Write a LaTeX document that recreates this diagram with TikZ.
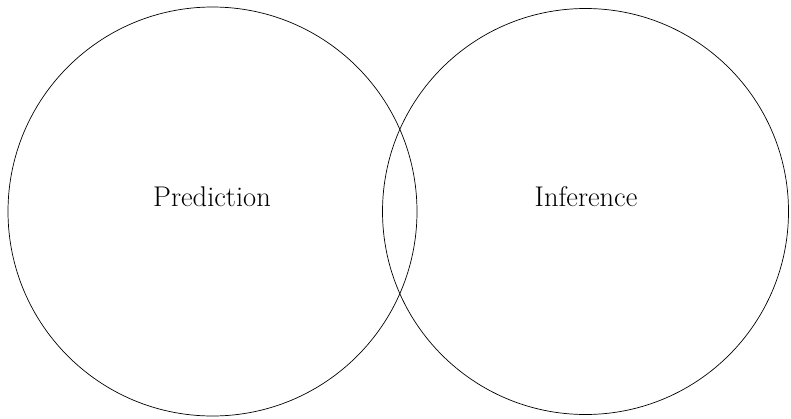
\documentclass[tikz,border=0pt]{standalone}
\begin{document}
\begin{tikzpicture}[x=1pt,y=-1pt,
  setcircle/.style={draw=black,line width=0.7pt,circle,inner sep=0pt},
  setlabel/.style={font=\fontsize{28.5}{32}\selectfont,inner sep=0pt}]
\useasboundingbox (0,0) rectangle (791,418);
\node[setcircle,minimum size=409pt] (left) at (212.5,211.5) {};
\node[setcircle,minimum size=406pt] (right) at (585.5,211.5) {};
\node[setlabel] (pred) at (212,197) {Prediction};
\node[setlabel] (inf) at (586,197) {Inference};
\end{tikzpicture}
\end{document}
